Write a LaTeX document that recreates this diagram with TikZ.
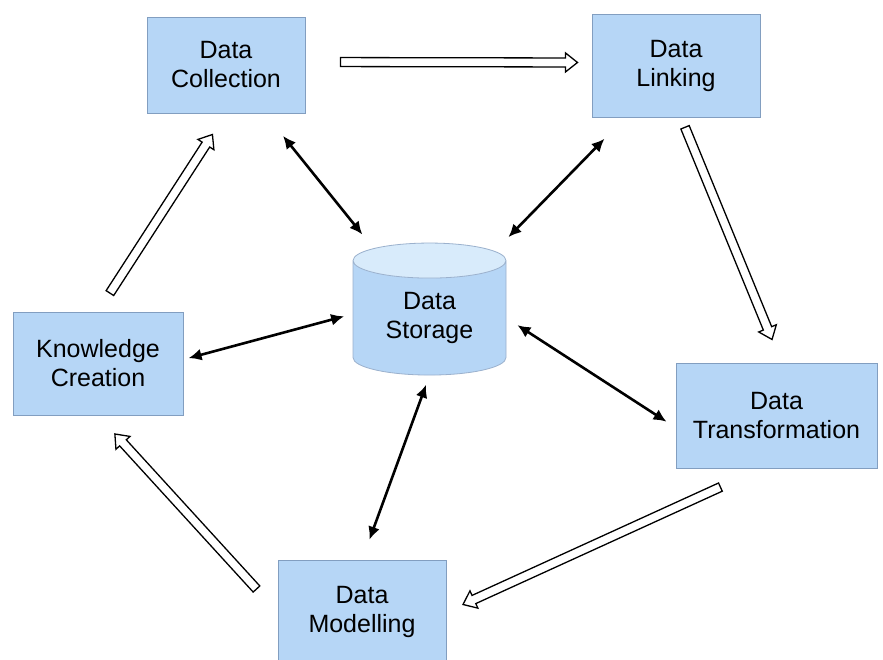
\documentclass[tikz,border=0pt]{standalone}
\usepackage{fontspec}
\setmainfont{Liberation Sans}
\usetikzlibrary{shapes.geometric,arrows.meta,calc,positioning}

\definecolor{boxfill}{RGB}{182,214,246}
\definecolor{boxedge}{RGB}{130,158,192}
\definecolor{capfill}{RGB}{216,235,251}

% open block arrow between two points
\newcommand{\flowarrow}[2]{%
  \path #1 coordinate (fa-s) #2 coordinate (fa-e);
  \coordinate (fa-b) at ($(fa-e)!12pt!(fa-s)$);
  \draw[flow] ($(fa-s)!4.5pt!90:(fa-e)$) -- ($(fa-b)!4.5pt!90:(fa-e)$)
    -- ($(fa-b)!9.5pt!90:(fa-e)$) -- (fa-e) -- ($(fa-b)!9.5pt!-90:(fa-e)$)
    -- ($(fa-b)!4.5pt!-90:(fa-e)$) -- ($(fa-s)!4.5pt!-90:(fa-e)$) -- cycle;}

\begin{document}
\begin{tikzpicture}[x=1pt, y=-1pt,
    stage/.style={draw=boxedge, fill=boxfill, line width=1pt, inner sep=0pt,
        align=center, font=\fontsize{25}{29}\selectfont},
    store/.style={cylinder, shape border rotate=90, aspect=0.4, draw=boxedge!80,
        line width=0.8pt, cylinder uses custom fill, cylinder body fill=boxfill,
        cylinder end fill=capfill, minimum width=153pt, minimum height=132pt,
        inner sep=0pt, align=center, font=\fontsize{25}{29}\selectfont},
    link/.style={{Latex[length=13pt,width=12pt]}-{Latex[length=13pt,width=12pt]}, line width=2.6pt},
    flow/.style={draw=black, fill=white, line width=1.3pt, line join=miter}]

    \fill[white] (0,0) rectangle (883,659);
    \useasboundingbox (0,0) rectangle (883,659);

    % Stages of the cycle
    \node[stage, minimum width=158pt, minimum height=96pt] (Coll) at (226,65) {Data\\Collection};
    \node[stage, minimum width=168pt, minimum height=103pt] (Link) at (676,65.5) {Data\\Linking};
    \node[stage, minimum width=170pt, minimum height=103pt] (Know) at (98,363.5) {Knowledge\\Creation};
    \node[stage, minimum width=201pt, minimum height=105pt] (Trans) at (776.5,415.5) {Data\\Transformation};
    \node[stage, minimum width=168pt, minimum height=103pt] (Model) at (362,612) {Data\\Modelling};

    % Central store
    \node[store] (Stor) at (429.5,318) {Data\\Storage};

    % Exchanges with the store
    \draw[link] ($(Coll)!0.28!(Stor)$) -- ($(Coll)!0.67!(Stor)$);
    \draw[link] ($(Link)!0.29!(Stor)$) -- ($(Link)!0.68!(Stor)$);
    \draw[link] ($([yshift=4pt]Know.east)!0.03!([yshift=4pt]Stor.west)$) -- ($([yshift=4pt]Know.east)!0.95!([yshift=4pt]Stor.west)$);
    \draw[link] ($(Stor.east)!0.065!([yshift=-12pt]Trans.west)$) -- ($(Stor.east)!0.947!([yshift=-12pt]Trans.west)$);
    \draw[link] ($(Stor.south)!0.05!(Model.north)$) -- ($(Stor.south)!0.89!(Model.north)$);

    % Flow round the cycle
    \flowarrow{($([yshift=3pt]Coll.east)!35pt!([yshift=3pt]Link.west)$)}{($([yshift=3pt]Link.west)!14pt!([yshift=3pt]Coll.east)$)}
    \flowarrow{($([xshift=5pt]Link.south)!0.04!([xshift=5pt]Trans.north)$)}{($([xshift=5pt]Link.south)!0.906!([xshift=5pt]Trans.north)$)}
    \flowarrow{($([yshift=7pt]Trans.south)!0.17!(Model.east)$)}{($([yshift=7pt]Trans.south)!0.95!(Model.east)$)}
    \flowarrow{($(Model.west)!0.117!(Know.south)$)}{($(Model.west)!0.906!(Know.south)$)}
    \flowarrow{($(Know.north)!0.093!(Coll.south)$)}{($(Know.north)!0.894!(Coll.south)$)}
\end{tikzpicture}
\end{document}
